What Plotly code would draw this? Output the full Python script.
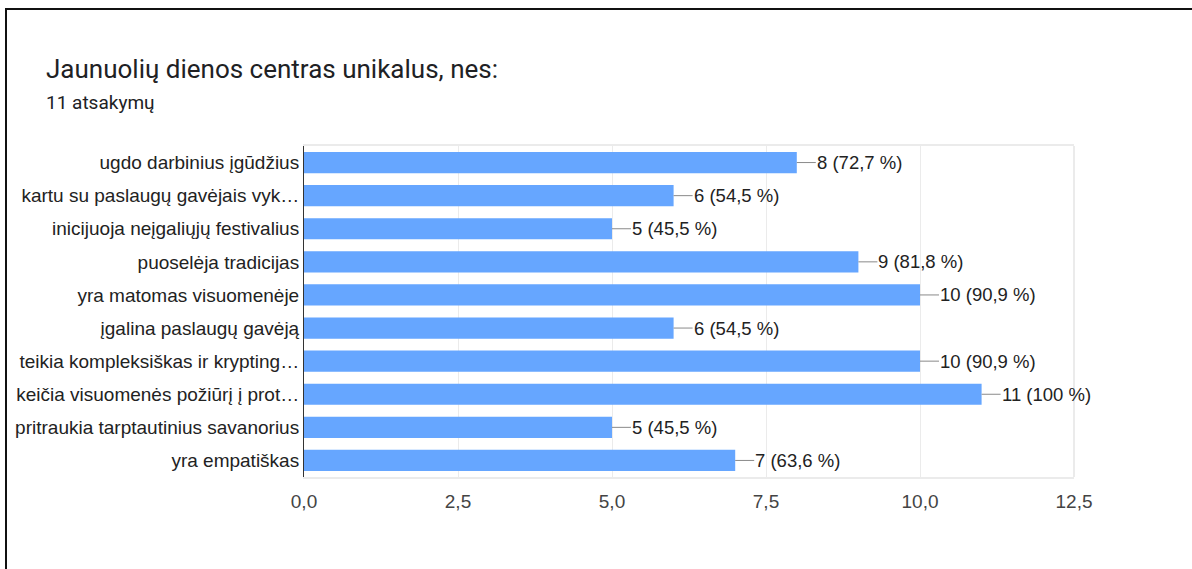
import plotly.graph_objects as go

categories = [
    "ugdo darbinius įgūdžius",
    "kartu su paslaugų gavėjais vyk…",
    "inicijuoja neįgaliųjų festivalius",
    "puoselėja tradicijas",
    "yra matomas visuomenėje",
    "įgalina paslaugų gavėją",
    "teikia kompleksiškas ir krypting…",
    "keičia visuomenės požiūrį į prot…",
    "pritraukia tarptautinius savanorius",
    "yra empatiškas",
]
counts = [8, 6, 5, 9, 10, 6, 10, 11, 5, 7]
percent_labels = ["72,7 %", "54,5 %", "45,5 %", "81,8 %", "90,9 %",
                  "54,5 %", "90,9 %", "100 %", "45,5 %", "63,6 %"]
x_ticks = [0, 2.5, 5, 7.5, 10, 12.5]

W, H = 1192, 569
L, R, T, B = 304, 118, 146, 92
pw, ph = W - L - R, H - T - B

def px_to_paper_x(px):
    return (px - L) / pw

def py_to_paper_y(py):
    return (H - B - py) / ph

fig = go.Figure()
fig.add_trace(go.Bar(
    x=counts, y=categories, orientation="h",
    marker=dict(color="#66a6ff", line=dict(width=0)),
    width=0.64, hoverinfo="skip",
))

annotations = []
for c, cat, p in zip(counts, categories, percent_labels):
    annotations.append(dict(
        x=c, y=cat, xref="x", yref="y",
        text=f"{c} ({p})", showarrow=True, arrowhead=0, arrowwidth=1,
        arrowcolor="#8a8a8a", ax=19, ay=0, xanchor="left",
        font=dict(family="Liberation Sans, Arial", size=18.5, color="#222222"),
        borderpad=0,
    ))

annotations.append(dict(
    x=px_to_paper_x(44), y=py_to_paper_y(69), xref="paper", yref="paper",
    text="Jaunuolių dienos centras unikalus, nes:", showarrow=False,
    xanchor="left", yanchor="middle",
    font=dict(family="Roboto", size=26, color="#202124"),
))
annotations.append(dict(
    x=px_to_paper_x(44), y=py_to_paper_y(102), xref="paper", yref="paper",
    text="11 atsakymų", showarrow=False, xanchor="left", yanchor="middle",
    font=dict(family="Roboto", size=19, color="#202124"),
))

fig.update_layout(
    width=W, height=H,
    margin=dict(l=L, r=R, t=T, b=B),
    paper_bgcolor="white", plot_bgcolor="white",
    separators=", ",
    showlegend=False,
    annotations=annotations,
    shapes=[
        dict(
            type="line", xref="paper", yref="paper",
            x0=1, x1=1, y0=0, y1=1,
            line=dict(color="#ebebeb", width=2), layer="below",
        ),
        dict(
            type="rect", xref="paper", yref="paper",
            x0=px_to_paper_x(6), x1=px_to_paper_x(1210),
            y0=py_to_paper_y(590), y1=py_to_paper_y(9),
            line=dict(color="#111111", width=2), fillcolor="rgba(0,0,0,0)",
            layer="above",
        ),
    ],
    xaxis=dict(
        range=[0, 12.5], tickvals=x_ticks, tickformat=".1f",
        showgrid=True, gridcolor="#ebebeb", gridwidth=1,
        showline=True, linecolor="#ebebeb", linewidth=2, mirror=True,
        zeroline=False, ticks="", ticklabelstandoff=6,
        tickfont=dict(family="Liberation Sans, Arial", size=19, color="#444444"),
    ),
    yaxis=dict(
        categoryorder="array", categoryarray=categories, autorange="reversed",
        showgrid=False, showline=True, linecolor="#333333", linewidth=1,
        ticks="", ticklabelstandoff=0,
        tickfont=dict(family="Liberation Sans, Arial", size=19, color="#222222"),
    ),
)

fig.write_html(
    "out.html",
    config={"displayModeBar": False},
    post_script="document.body.style.margin='0';document.body.style.overflow='hidden';",
)
